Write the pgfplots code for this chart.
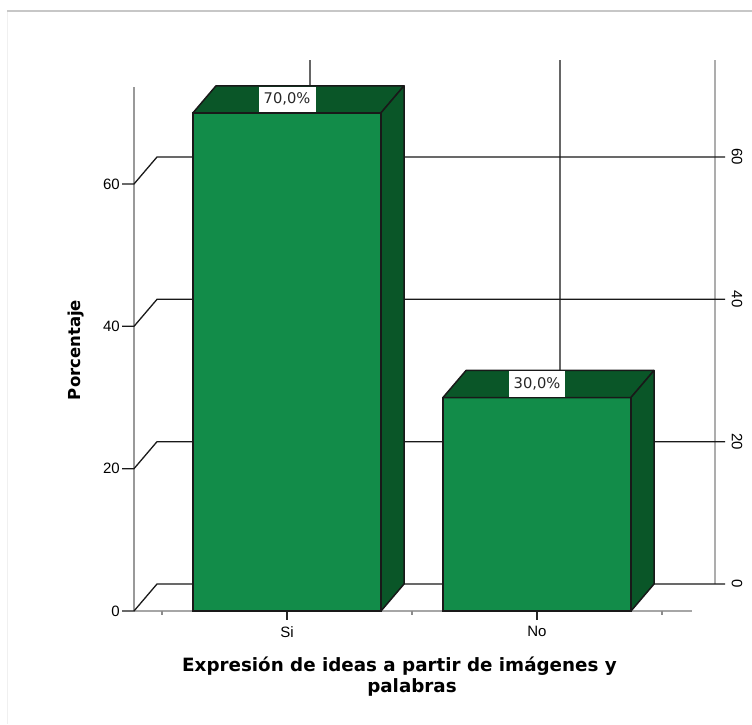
\documentclass[border=0pt]{standalone}
\usepackage{fontspec}
\setmainfont{DejaVu Sans}
\newfontfamily\ticksans{Liberation Sans}
\usepackage{pgfplots}
\pgfplotsset{compat=1.18}
\definecolor{barfront}{RGB}{18,140,73}
\definecolor{bardark}{RGB}{10,86,40}
\newcommand{\tickfont}{\ticksans\fontsize{15}{17}\selectfont}
\begin{document}
\begin{tikzpicture}
\path[use as bounding box] (0,0) rectangle (752pt,724pt);
\draw[black!22, line width=2pt] (7pt,713pt) -- (752pt,713pt);
\draw[black!6, line width=1pt] (7pt,712pt) -- (7pt,0pt);
\begin{axis}[
  at={(134pt,113pt)}, anchor=south west,
  scale only axis, width=558pt, height=524pt,
  xmin=-0.612, xmax=1.62, ymin=0, ymax=73.63,
  clip=false, hide axis,
]
% front left axis and floor edge
\addplot[black!40, line width=1.2pt] coordinates {(-0.612,0) (-0.612,73.63)};
\addplot[black!35, line width=1.4pt] coordinates {(-0.612,0) (1.62,0)};
% back right axis and back centre lines
\addplot[black!32, line width=1.3pt] coordinates {(1.712,3.794) (1.712,77.42)};
\addplot[black!60, line width=1.1pt] coordinates {(0.092,3.794) (0.092,77.42)};
\addplot[black!60, line width=1.1pt] coordinates {(1.092,3.794) (1.092,77.42)};
% grid lines (left tick, left wall diagonal, back wall, right tick)
\addplot[black!90, line width=1.3pt] coordinates {(-0.66,0) (-0.612,0) (-0.52,3.794) (1.752,3.794)};
\addplot[black!90, line width=1.3pt] coordinates {(-0.66,20) (-0.612,20) (-0.52,23.794) (1.752,23.794)};
\addplot[black!90, line width=1.3pt] coordinates {(-0.66,40) (-0.612,40) (-0.52,43.794) (1.752,43.794)};
\addplot[black!90, line width=1.3pt] coordinates {(-0.66,60) (-0.612,60) (-0.52,63.794) (1.752,63.794)};
% x ticks
\addplot[black!85, line width=1.3pt] coordinates {(0,0) (0,-1.26)};
\addplot[black!85, line width=1.3pt] coordinates {(1,0) (1,-1.26)};
\addplot[black!45, line width=1.2pt] coordinates {(-0.5,0) (-0.5,-0.5)};
\addplot[black!45, line width=1.2pt] coordinates {(0.5,0) (0.5,-0.5)};
\addplot[black!45, line width=1.2pt] coordinates {(1.5,0) (1.5,-0.5)};
% bars: front faces
\addplot[ybar, bar width=0.752, bar shift=0, fill=barfront, draw=black!90, line width=1.5pt] coordinates {(0,70) (1,30)};
% top faces
\addplot[fill=bardark, draw=black!90, line width=1.5pt, line join=round] coordinates {(-0.376,70) (0.376,70) (0.468,73.794) (-0.284,73.794)} -- cycle;
\addplot[fill=bardark, draw=black!90, line width=1.5pt, line join=round] coordinates {(0.624,30) (1.376,30) (1.468,33.794) (0.716,33.794)} -- cycle;
% side faces
\addplot[fill=bardark, draw=black!90, line width=1.5pt, line join=round] coordinates {(0.376,0) (0.468,3.794) (0.468,73.794) (0.376,70)} -- cycle;
\addplot[fill=bardark, draw=black!90, line width=1.5pt, line join=round] coordinates {(1.376,0) (1.468,3.794) (1.468,33.794) (1.376,30)} -- cycle;
% data labels
\node[fill=white, inner sep=0pt, minimum width=57pt, minimum height=25pt, font=\fontsize{14.7}{17}\selectfont, text=black!85] at (axis cs:0,71.897) {70,0\%};
\node[fill=white, inner sep=0pt, minimum width=56pt, minimum height=25pt, font=\fontsize{14.7}{17}\selectfont, text=black!85] at (axis cs:1,31.897) {30,0\%};
% left tick labels
\node[anchor=east, inner sep=0pt, xshift=-14pt, font=\tickfont] at (axis cs:-0.612,0) {0};
\node[anchor=east, inner sep=0pt, xshift=-14pt, font=\tickfont] at (axis cs:-0.612,20) {20};
\node[anchor=east, inner sep=0pt, xshift=-14pt, font=\tickfont] at (axis cs:-0.612,40) {40};
\node[anchor=east, inner sep=0pt, xshift=-14pt, font=\tickfont] at (axis cs:-0.612,60) {60};
% right tick labels
\node[rotate=-90, inner sep=0pt, font=\tickfont] at (axis cs:1.8,3.794) {0};
\node[rotate=-90, inner sep=0pt, font=\tickfont] at (axis cs:1.8,23.794) {20};
\node[rotate=-90, inner sep=0pt, font=\tickfont] at (axis cs:1.8,43.794) {40};
\node[rotate=-90, inner sep=0pt, font=\tickfont] at (axis cs:1.8,63.794) {60};
% x tick labels
\node[anchor=north, inner sep=0pt, yshift=-15pt, font=\tickfont] at (axis cs:0,0) {Si};
\node[anchor=north, inner sep=0pt, yshift=-15pt, font=\tickfont] at (axis cs:1,0) {No};
\end{axis}
\node[rotate=90, font=\fontsize{16.5}{19}\selectfont\bfseries] at (76pt,374pt) {Porcentaje};
\node[anchor=base, inner sep=0pt, font=\fontsize{18.3}{21}\selectfont\bfseries] at (399.5pt,52.5pt) {Expresión de ideas a partir de imágenes y};
\node[anchor=base, inner sep=0pt, font=\fontsize{18.3}{21}\selectfont\bfseries] at (412pt,32pt) {palabras};
\end{tikzpicture}
\end{document}
